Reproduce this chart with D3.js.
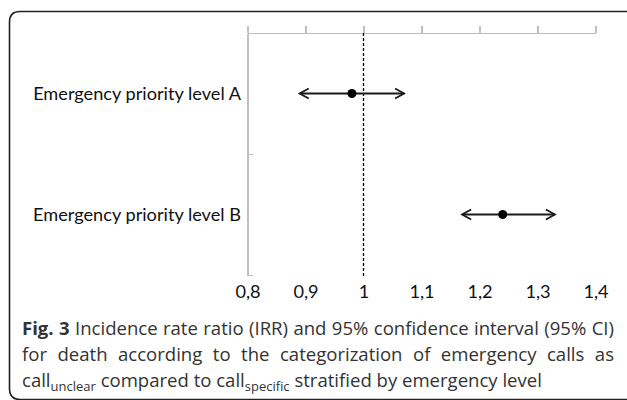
<!DOCTYPE html>
<html lang="en">
<head>
<meta charset="utf-8">
<title>IRR by emergency priority level</title>
<script src="https://cdn.jsdelivr.net/npm/d3@7"></script>
<style>
  body { margin: 0; background: #fff; }
  .axis path, .axis line { stroke: #bfbfbf; stroke-width: 1.4; shape-rendering: crispEdges; }
</style>
</head>
<body>
<script>

// Data
var categories = ["Emergency priority level A", "Emergency priority level B"];
var irr = [0.98, 1.24];
var ciLow = [0.89, 1.17];
var ciHigh = [1.07, 1.33];
var xTicks = [0.8, 0.9, 1, 1.1, 1.2, 1.3, 1.4];
var refValue = 1;

var w = 627, h = 400;
var chartFont = "Lato, 'Open Sans', sans-serif";
var capFont = "'Open Sans', 'Noto Sans', sans-serif";

var svg = d3.select("body").append("svg")
  .attr("width", w)
  .attr("height", h);

// rounded frame, open on the right like the cropped figure
svg.append("path")
  .attr("d", "M640,11.5 H20 Q9.5,11.5 9.5,22 V389 Q9.5,399.5 20,399.5 H640")
  .attr("fill", "none")
  .attr("stroke", "#222")
  .attr("stroke-width", 1.6);

// scales
var x = d3.scaleLinear().domain([0.8, 1.4]).range([247.5, 595.5]);
var y = d3.scaleBand().domain(categories).range([33, 275]);
var yEdge = d3.scaleLinear().domain([0, categories.length]).range([33, 275]);

// top axis (ticks pointing up, no labels)
svg.append("g")
  .attr("class", "axis")
  .attr("transform", "translate(0,33)")
  .call(d3.axisTop(x).tickValues(xTicks).tickSize(7).tickSizeOuter(0).tickFormat(""));

// vertical category axis with ticks at band edges
svg.append("g")
  .attr("class", "axis")
  .attr("transform", "translate(247.5,0)")
  .call(d3.axisRight(yEdge).tickValues([1, 2]).tickSize(5).tickSizeOuter(0).tickFormat(""));

// value labels shown low, under the plot
var xLab = svg.append("g")
  .attr("transform", "translate(0,275)")
  .call(d3.axisBottom(x).tickValues(xTicks).tickSize(0).tickPadding(10)
    .tickFormat(function(d) { return String(d).replace(".", ","); }));
xLab.select(".domain").remove();

// category labels
var catLab = svg.append("g").selectAll("text")
  .data(categories)
  .enter()
  .append("text")
  .attr("x", 241)
  .attr("y", function(d) { return y(d) + y.bandwidth() / 2; })
  .attr("dy", "0.35em")
  .attr("text-anchor", "end")
  .attr("fill", "#111")
  .style("font-family", chartFont)
  .style("font-size", "20px")
  .text(function(d) { return d; });

// fit label font to the figure's label width
var natural = catLab.node().getComputedTextLength();
var fs = 20 * 208 / natural;
catLab.style("font-size", fs + "px");
xLab.selectAll("text")
  .attr("fill", "#111")
  .style("font-family", chartFont)
  .style("font-size", fs + "px");

// reference line at IRR = 1
svg.append("line")
  .attr("x1", x(refValue)).attr("x2", x(refValue))
  .attr("y1", 33).attr("y2", 277)
  .attr("stroke", "#000")
  .attr("stroke-width", 1.3)
  .attr("stroke-dasharray", "3,2");

// confidence intervals with open arrow heads
var rows = categories.map(function(c, i) {
  return { cat: c, est: irr[i], lo: ciLow[i], hi: ciHigh[i] };
});
var g = svg.append("g").selectAll("g")
  .data(rows)
  .enter()
  .append("g")
  .attr("transform", function(d) { return "translate(0," + (y(d.cat) + y.bandwidth() / 2) + ")"; });

g.append("line")
  .attr("x1", function(d) { return x(d.lo); })
  .attr("x2", function(d) { return x(d.hi); })
  .attr("stroke", "#1a1a1a")
  .attr("stroke-width", 1.8);

g.append("path")
  .attr("d", function(d) {
    var a = x(d.lo), b = x(d.hi);
    return "M" + (a + 9) + ",-5 L" + a + ",0 L" + (a + 9) + ",5" +
           "M" + (b - 9) + ",-5 L" + b + ",0 L" + (b - 9) + ",5";
  })
  .attr("fill", "none")
  .attr("stroke", "#1a1a1a")
  .attr("stroke-width", 1.8);

g.append("circle")
  .attr("cx", function(d) { return x(d.est); })
  .attr("r", 4.5)
  .attr("fill", "#000");

// caption
var capLines = [
  [{ t: "Fig. 3", b: true }, { t: " Incidence rate ratio (IRR) and 95% confidence interval (95% CI)" }],
  [{ t: "for death according to the categorization of emergency calls as" }],
  [{ t: "call" }, { t: "unclear", sub: true }, { t: " compared to call" }, { t: "specific", sub: true },
   { t: " stratified by emergency level" }]
];
var capBase = [335, 361, 387];
var capText = capLines.map(function(parts, i) {
  var t = svg.append("text")
    .attr("x", 22)
    .attr("y", capBase[i])
    .attr("fill", "#333")
    .style("font-family", capFont)
    .style("font-size", "18px");
  parts.forEach(function(p, j) {
    var s = t.append("tspan").text(p.t);
    if (p.b) s.style("font-weight", "bold");
    if (p.sub) s.attr("dy", 4);
    else if (j > 0 && parts[j - 1].sub) s.attr("dy", -4);
  });
  return t;
});

// size caption so the first (longest) line just fits, then justify
var cfs = 18 * 586 / capText[0].node().getComputedTextLength();
capText.forEach(function(t, i) {
  t.style("font-size", cfs + "px");
  t.selectAll("tspan").each(function(d, j) {
    if (capLines[i][j].sub) d3.select(this).style("font-size", (cfs * 0.7) + "px");
  });
});
[0, 1].forEach(function(i) {
  var t = capText[i];
  var len = t.node().getComputedTextLength();
  var gaps = t.text().split(" ").length - 1;
  t.style("word-spacing", ((592 - len) / gaps) + "px");
});

</script>
</body>
</html>
